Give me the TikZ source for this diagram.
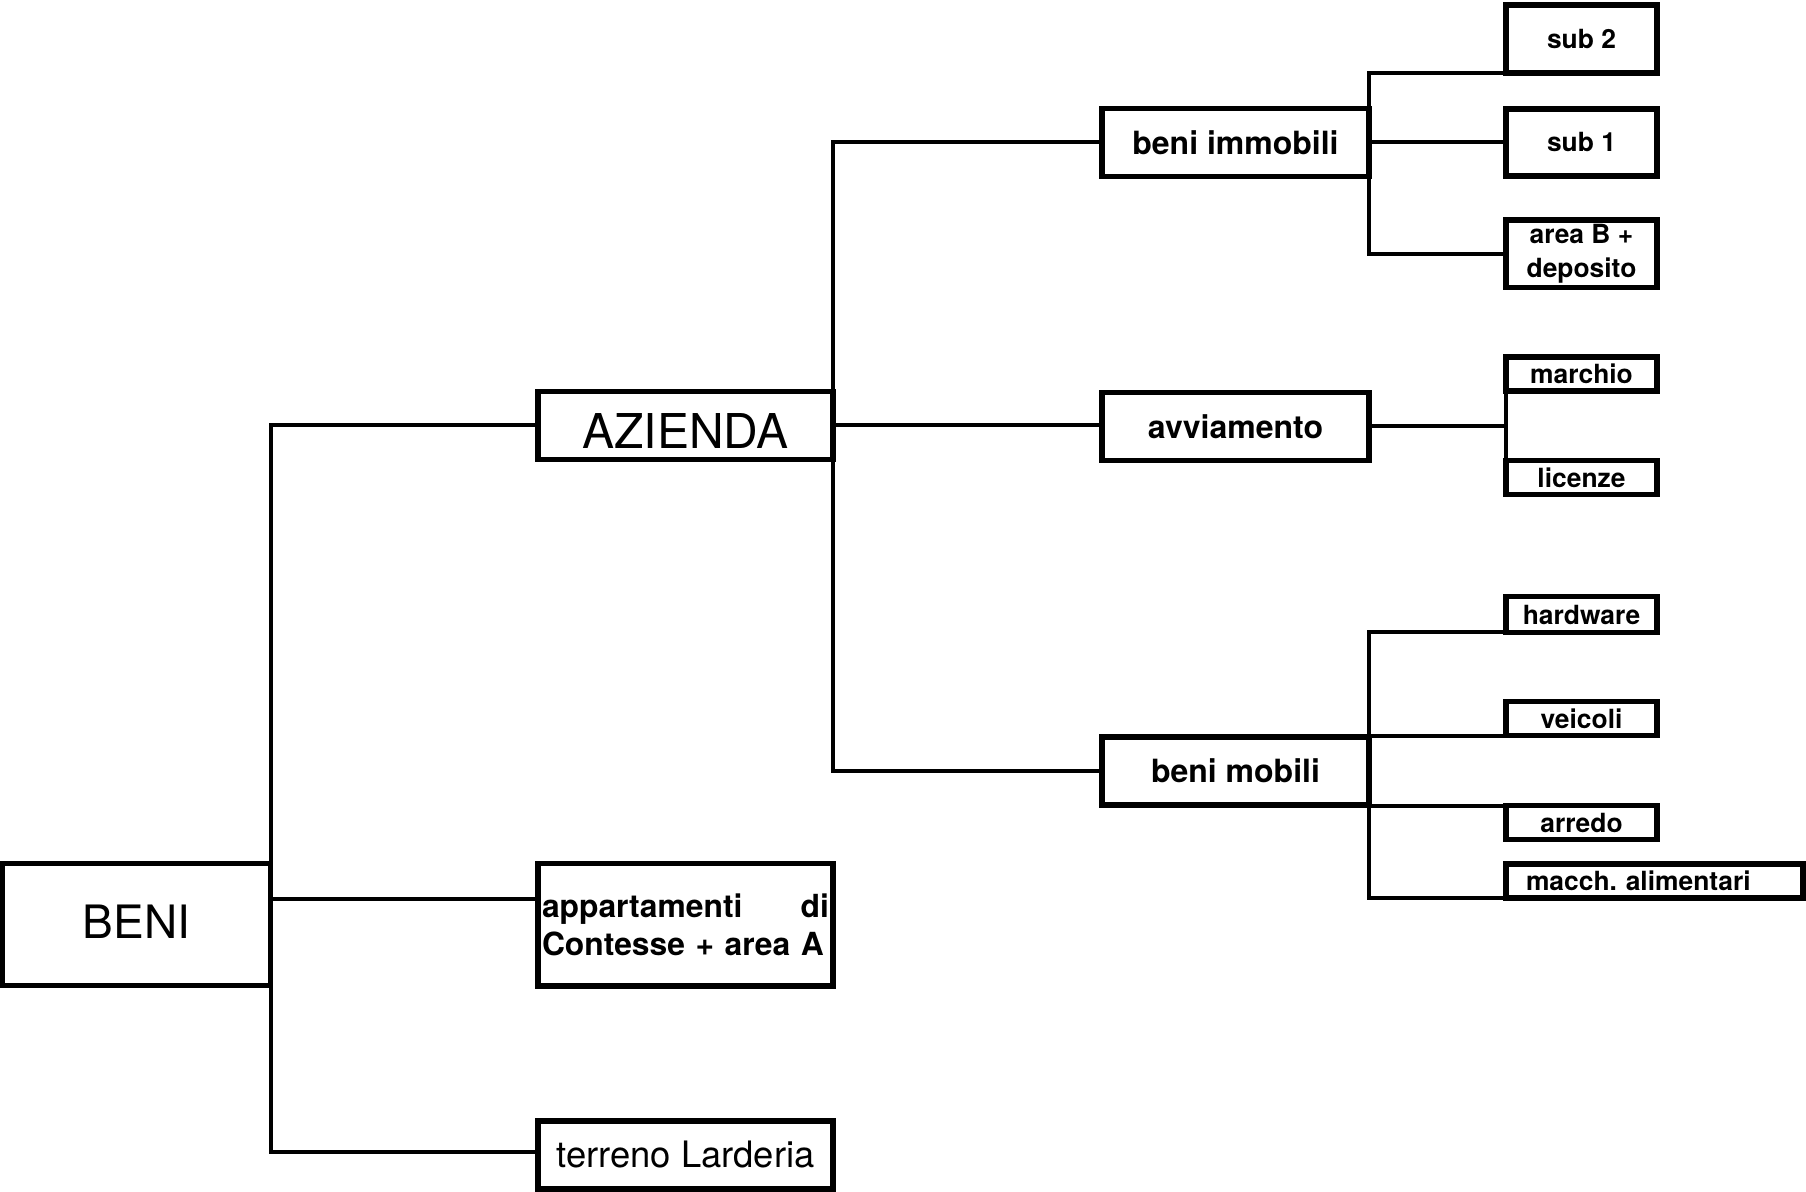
\documentclass[tikz,border=0pt]{standalone}
\usepackage{fontspec}
\setmainfont{TeX Gyre Heros}
\usetikzlibrary{calc}
\tikzset{
  box/.style={rectangle, draw, line width=2.8pt, inner sep=0pt, outer sep=0pt, align=center},
  rootbox/.style={box, minimum width=134pt, minimum height=61pt, font=\fontsize{23}{27}\selectfont},
  midbox/.style={box, minimum width=147.5pt, minimum height=34pt},
  catbox/.style={box, minimum width=133.5pt, minimum height=34pt, font=\fontsize{16}{19}\selectfont\bfseries},
  leafbox/.style={box, minimum width=75.5pt, minimum height=17pt, font=\fontsize{13.2}{16.7}\selectfont\bfseries},
  conn/.style={line width=2pt},
}

\begin{document}
\begin{tikzpicture}[x=0.5pt, y=-0.5pt]
  \useasboundingbox (0,0) rectangle (1806,1192);

  % root
  \node[rootbox, text depth=3pt] (beni) at (136.5,924.5) {BENI};

  % second level
  \node[midbox, text height=22.7pt, text depth=0pt, font=\fontsize{24}{28}\selectfont] (azienda) at (685.5,425.5) {AZIENDA};
  \node[box, minimum width=147.5pt, minimum height=61.25pt, text width=143.5pt, align=left,
        font=\fontsize{15.9}{19}\selectfont\bfseries] (appart) at (685.5,924.75)
        {appartamenti\hfill di\\Contesse + area A};
  \node[midbox, minimum height=34.25pt, font=\fontsize{18.2}{22}\selectfont] (terreno) at (685.5,1155) {terreno Larderia};

  % third level
  \node[catbox] (immob) at (1235.5,142.5) {beni immobili};
  \node[catbox] (avviam) at (1235.5,426.5) {avviamento};
  \node[catbox] (mobili) at (1235.5,770.75) {beni mobili};

  % leaves
  \node[leafbox, minimum height=34pt] (sub2) at (1581.5,38.75) {sub 2};
  \node[leafbox, minimum height=33.5pt] (sub1) at (1581.5,142.5) {sub 1};
  \node[leafbox, minimum height=33.75pt] (areab) at (1581.5,253.75) {area B +\\deposito};
  \node[leafbox] (marchio) at (1581.5,374) {marchio};
  \node[leafbox] (licenze) at (1581.5,477.5) {licenze};
  \node[leafbox, minimum height=18pt] (hardware) at (1581.5,614.5) {hardware};
  \node[leafbox] (veicoli) at (1581.5,718.5) {veicoli};
  \node[leafbox] (arredo) at (1581.5,822.5) {arredo};
  \node[leafbox, minimum width=148.5pt, minimum height=17pt, text width=148.5pt, align=left]
        (macch) at (1654.5,881) {\hspace*{10pt}macch.\ alimentari};

  % connectors
  \coordinate (appjoin) at ([yshift=13pt]appart.west);
  \coordinate (terjoin) at ([yshift=1.75pt]terreno.west);
  \draw[conn] (beni.north east) |- (azienda.west);
  \draw[conn] (appjoin) -- (appjoin -| beni.east);
  \draw[conn] (beni.south east) |- (terjoin);

  \draw[conn] (azienda.north east) |- (immob.west);
  \draw[conn] (azienda.east) -- (azienda.east -| avviam.west);
  \draw[conn] (azienda.south east) |- (mobili.west);

  \draw[conn] (immob.north east) |- (sub2.south west);
  \draw[conn] (immob.east) -- (sub1.west);
  \draw[conn] (immob.south east) |- (areab.west);

  \draw[conn] (avviam.east) -- (avviam.east -| marchio.west);
  \draw[conn] (marchio.south west) -- (licenze.north west);

  \draw[conn] (mobili.north east) |- (hardware.south west);
  \draw[conn] (veicoli.south west) -- (veicoli.south west -| mobili.east);
  \draw[conn] (arredo.north west) -- (arredo.north west -| mobili.east);
  \draw[conn] (mobili.south east) |- (macch.south west);
\end{tikzpicture}
\end{document}
